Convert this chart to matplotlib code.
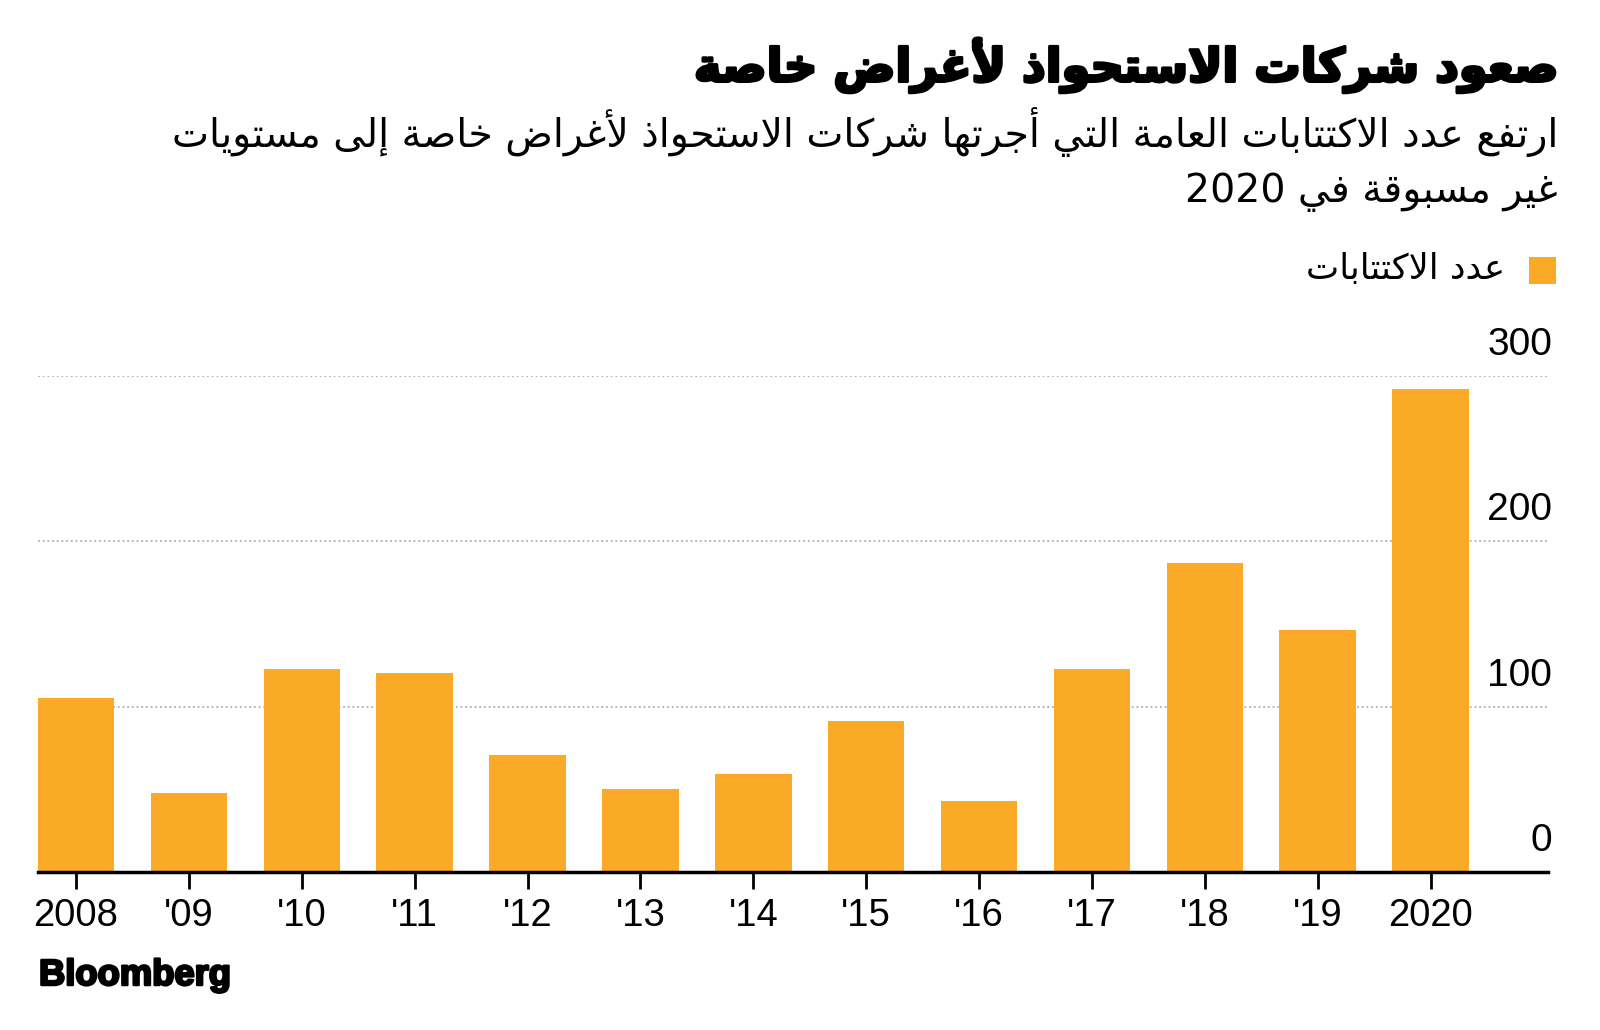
import matplotlib
matplotlib.use('Agg')
import matplotlib.pyplot as plt
import matplotlib.patheffects as pe
from matplotlib.transforms import blended_transform_factory, ScaledTranslation
from matplotlib.patches import Rectangle

# ---------------- data ----------------
years = ['2008', "'09", "'10", "'11", "'12", "'13", "'14", "'15", "'16", "'17", "'18", "'19", '2020']
ipo_counts = [105, 48, 123, 120, 71, 50, 59, 91, 43, 123, 187, 146, 292]
y_ticks = [0, 100, 200, 300]
title_text = 'صعود شركات الاستحواذ لأغراض خاصة'
subtitle_lines = ['ارتفع عدد الاكتتابات العامة التي أجرتها شركات الاستحواذ لأغراض خاصة إلى مستويات',
                  'غير مسبوقة في 2020']
legend_label = 'عدد الاكتتابات'
source_text = 'Bloomberg'

BAR_COLOR = '#FAAA26'
GRID_COLOR = '#AFAFAF'

# ---------------- minimal Arabic shaping (contextual forms + RTL order) ----------------
DUAL = {'\u0626': 0xFE89, '\u0628': 0xFE8F, '\u062A': 0xFE95, '\u062B': 0xFE99, '\u062C': 0xFE9D,
        '\u062D': 0xFEA1, '\u062E': 0xFEA5, '\u0633': 0xFEB1, '\u0634': 0xFEB5, '\u0635': 0xFEB9,
        '\u0636': 0xFEBD, '\u0637': 0xFEC1, '\u0638': 0xFEC5, '\u0639': 0xFEC9, '\u063A': 0xFECD,
        '\u0641': 0xFED1, '\u0642': 0xFED5, '\u0643': 0xFED9, '\u0644': 0xFEDD, '\u0645': 0xFEE1,
        '\u0646': 0xFEE5, '\u0647': 0xFEE9, '\u064A': 0xFEF1}
RIGHT = {'\u0622': 0xFE81, '\u0623': 0xFE83, '\u0624': 0xFE85, '\u0625': 0xFE87, '\u0627': 0xFE8D,
         '\u0629': 0xFE93, '\u062F': 0xFEA9, '\u0630': 0xFEAB, '\u0631': 0xFEAD, '\u0632': 0xFEAF,
         '\u0648': 0xFEED, '\u0649': 0xFEEF, '\u0621': 0xFE80}
LAMALEF = {'\u0622': 0xFEF5, '\u0623': 0xFEF7, '\u0625': 0xFEF9, '\u0627': 0xFEFB}


def is_arabic(ch):
    return '\u0600' <= ch <= '\u06FF'


def shape_word(word):
    toks = []
    i = 0
    while i < len(word):
        c = word[i]
        if c == '\u0644' and i + 1 < len(word) and word[i + 1] in LAMALEF:
            toks.append(('LA', LAMALEF[word[i + 1]]))
            i += 2
            continue
        if c in DUAL:
            toks.append(('D', DUAL[c]))
        elif c in RIGHT:
            toks.append(('R', RIGHT[c]))
        else:
            toks.append(('X', c))
        i += 1
    out = []
    for k, (t, b) in enumerate(toks):
        if t == 'X':
            out.append(b)
            continue
        jp = k > 0 and toks[k - 1][0] == 'D'
        jn = t == 'D' and k + 1 < len(toks) and toks[k + 1][0] != 'X'
        if b == 0xFE80:
            out.append(chr(b))
            continue
        if t == 'D':
            off = 3 if (jp and jn) else 1 if jp else 2 if jn else 0
        else:
            off = 1 if jp else 0
        out.append(chr(b + off))
    return ''.join(out)[::-1]


def rtl(text):
    words = text.split(' ')
    vis = [shape_word(w) if any(is_arabic(c) for c in w) else w for w in words]
    return ' '.join(vis[::-1])


# ---------------- figure ----------------
W, H = 1600, 1030
fig = plt.figure(figsize=(W / 100, H / 100), dpi=100)
fig.patch.set_facecolor('white')

y0_px, y300_px = 872.0, 375.7
ax = fig.add_axes([38 / W, (H - y0_px) / H, (1548 - 38) / W, (y0_px - y300_px) / H])
x = list(range(len(years)))
ax.bar(x, ipo_counts, width=0.678, color=BAR_COLOR, zorder=2, linewidth=0)
ax.set_xlim(-0.337, 13.04)
ax.set_ylim(0, 300)

for v in y_ticks[1:]:
    ax.axhline(v, color=GRID_COLOR, lw=1.3, ls=(0, (1, 1.6)), zorder=1)

for s in ['top', 'left', 'right']:
    ax.spines[s].set_visible(False)
ax.spines['bottom'].set_linewidth(2.5)
ax.spines['bottom'].set_color('black')
ax.spines['bottom'].set_zorder(3)

ax.set_yticks([])
ax.set_xticks(x)
ax.set_xticklabels(years, fontsize=27.5, family='Liberation Sans', color='black')
ax.tick_params(axis='x', length=12.5, width=2.0, color='black', pad=6)

# y labels sitting above the gridlines at the right
ytr = blended_transform_factory(fig.transFigure, ax.transData) + \
    ScaledTranslation(0, 21 / 100, fig.dpi_scale_trans)
for v in y_ticks:
    ax.text(1552 / W, v, str(v), transform=ytr, ha='right', va='baseline',
            fontsize=28, family='Liberation Sans', color='black', clip_on=False)

renderer = fig.canvas.get_renderer()


def fit(t, target_w):
    bb = t.get_window_extent(renderer=renderer)
    t.set_fontsize(t.get_fontsize() * target_w / bb.width)


# title and subtitle
title = fig.text(1558 / W, 1 - 65 / H, rtl(title_text), ha='right', va='center',
                 fontsize=40, fontweight='bold', family=['DejaVu Sans'], color='black')
fit(title, 864)
title.set_path_effects([pe.withStroke(linewidth=2.2, foreground='black')])

sub1 = fig.text(1558 / W, 1 - 132 / H, rtl(subtitle_lines[0]), ha='right', va='center',
                fontsize=24, family=['DejaVu Sans'], color='black')
fit(sub1, 1390)
sub2 = fig.text(1558 / W, 1 - 192 / H, rtl(subtitle_lines[1]), ha='right', va='center',
                fontsize=sub1.get_fontsize(), family=['DejaVu Sans'], color='black')

# legend
fig.patches.append(Rectangle((1529 / W, 1 - 284 / H), 27 / W, 27 / H, transform=fig.transFigure,
                             facecolor=BAR_COLOR, edgecolor='none'))
leg = fig.text(1505 / W, 1 - 269 / H, rtl(legend_label), ha='right', va='center',
               fontsize=22, family=['DejaVu Sans'], color='black')
fit(leg, 199)

# source logo
src = fig.text(39 / W, 45 / H, source_text, ha='left', va='baseline', fontsize=28,
               fontweight='bold', family='Liberation Sans', color='black')
fit(src, 192)
src.set_path_effects([pe.withStroke(linewidth=1.8, foreground='black')])

fig.savefig('out.png', dpi=100, facecolor='white')
